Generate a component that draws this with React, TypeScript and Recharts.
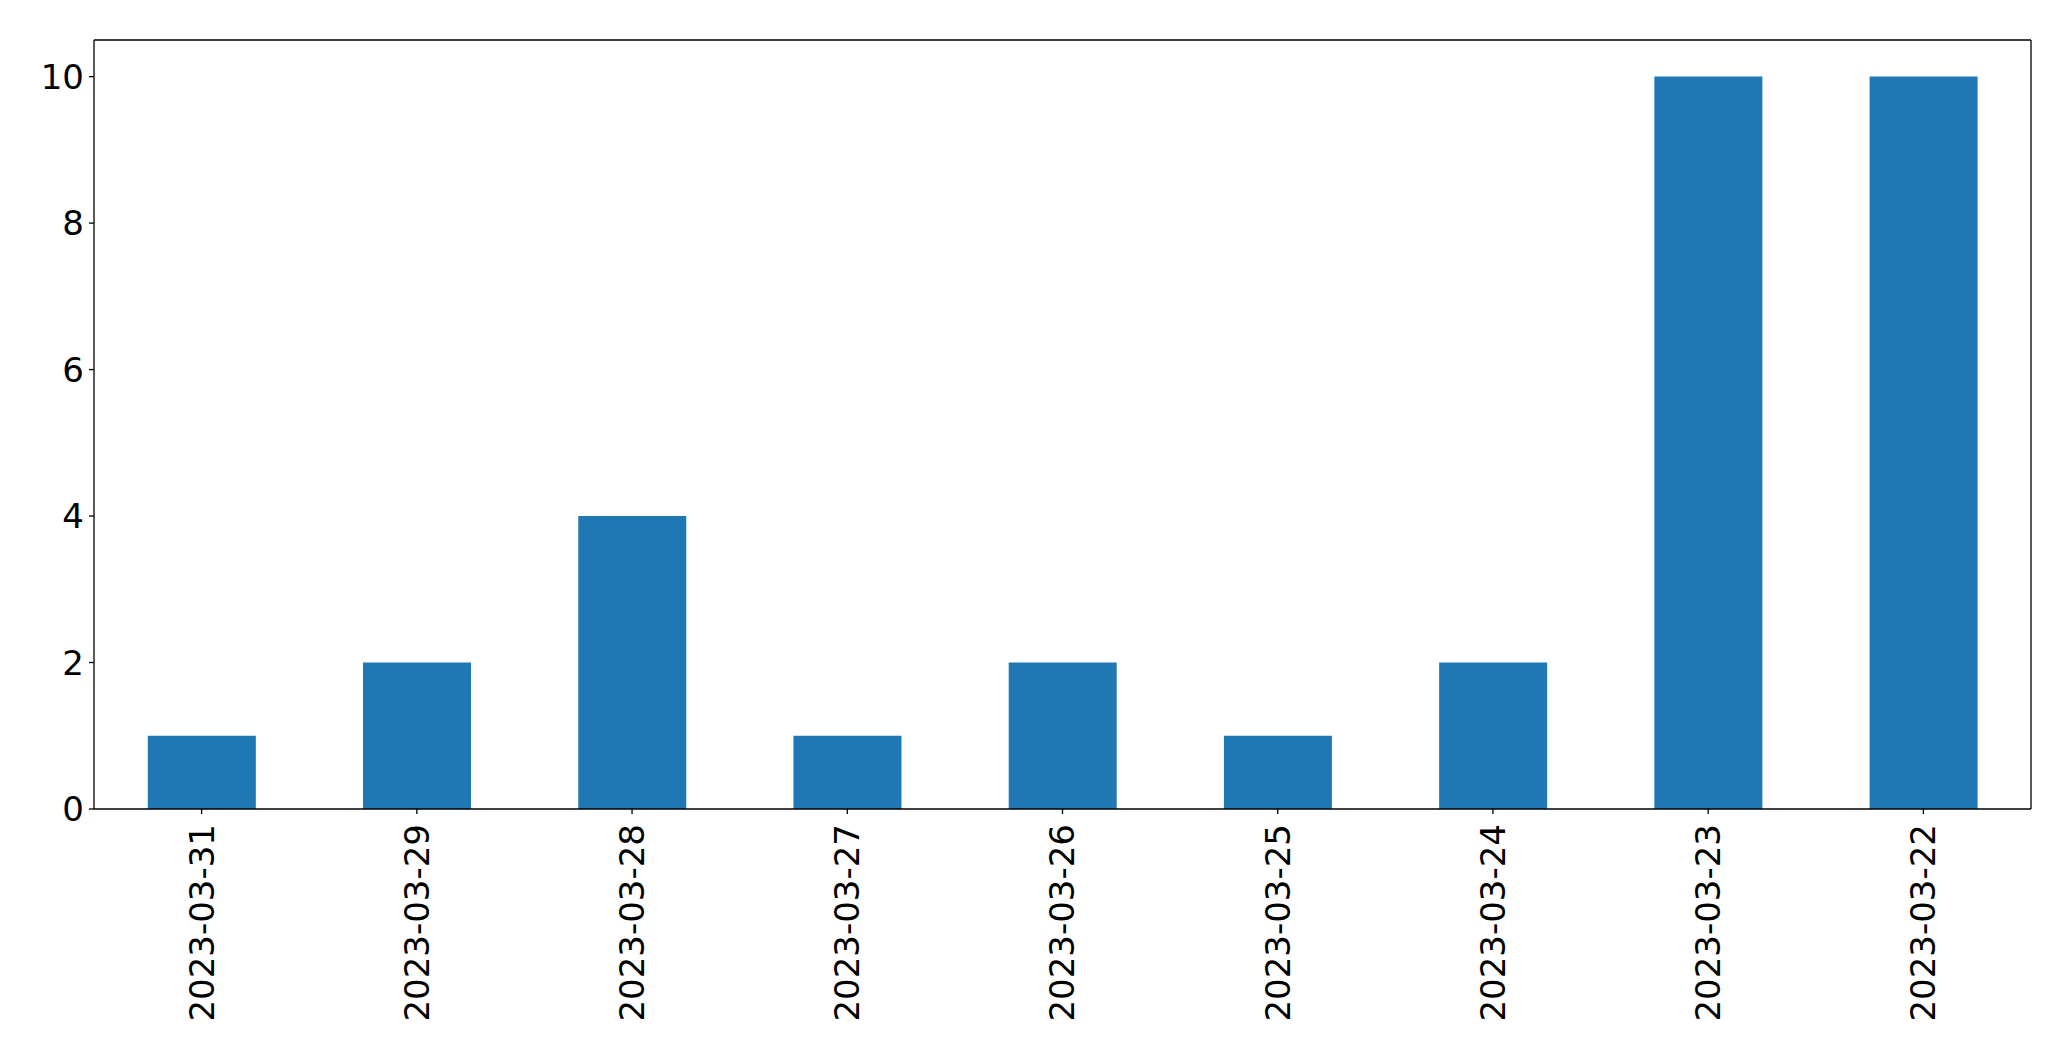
import { BarChart, Bar, XAxis, YAxis } from 'recharts';

const dates = [
  '2023-03-31',
  '2023-03-29',
  '2023-03-28',
  '2023-03-27',
  '2023-03-26',
  '2023-03-25',
  '2023-03-24',
  '2023-03-23',
  '2023-03-22',
];
const counts = [1, 2, 4, 1, 2, 1, 2, 10, 10];
const yTicks = [0, 2, 4, 6, 8, 10];

const FONT = '"DejaVu Sans", sans-serif';
const FONT_SIZE = 34;

const chartData = dates.map((date, i) => ({ date, count: counts[i] }));

function DateTick({ x, y, payload }: any) {
  return (
    <g transform={`translate(${x},${y + 5})`}>
      <text
        transform="rotate(-90)"
        textAnchor="end"
        dy="0.35em"
        fill="#000"
        fontSize={FONT_SIZE}
        fontFamily={FONT}
      >
        {payload.value}
      </text>
    </g>
  );
}

export default function App() {
  return (
    <div style={{ position: 'absolute', left: 0, top: 0, background: '#fff' }}>
      <BarChart
        width={2071}
        height={1061}
        data={chartData}
        margin={{ top: 39, right: 39, left: 0, bottom: 0 }}
        barCategoryGap="25%"
      >
        <XAxis
          dataKey="date"
          xAxisId="bottom"
          height={252}
          interval={0}
          tick={<DateTick />}
          tickSize={5}
          tickMargin={5}
          axisLine={{ stroke: '#000', strokeWidth: 1.3 }}
          tickLine={{ stroke: '#000', strokeWidth: 1.3 }}
        />
        <XAxis
          dataKey="date"
          xAxisId="top"
          orientation="top"
          height={1}
          tick={false}
          tickLine={false}
          axisLine={{ stroke: '#000', strokeWidth: 1.3 }}
        />
        <YAxis
          yAxisId="left"
          width={94}
          domain={[0, 10.5]}
          ticks={yTicks}
          tickSize={5}
          tickMargin={5}
          tick={{ fill: '#000', fontSize: FONT_SIZE, fontFamily: FONT }}
          axisLine={{ stroke: '#000', strokeWidth: 1.3 }}
          tickLine={{ stroke: '#000', strokeWidth: 1.3 }}
        />
        <YAxis
          yAxisId="right"
          orientation="right"
          width={1}
          domain={[0, 10.5]}
          tick={false}
          tickLine={false}
          axisLine={{ stroke: '#000', strokeWidth: 1.3 }}
        />
        <Bar
          dataKey="count"
          xAxisId="bottom"
          yAxisId="left"
          fill="#1f77b4"
          isAnimationActive={false}
        />
      </BarChart>
    </div>
  );
}
